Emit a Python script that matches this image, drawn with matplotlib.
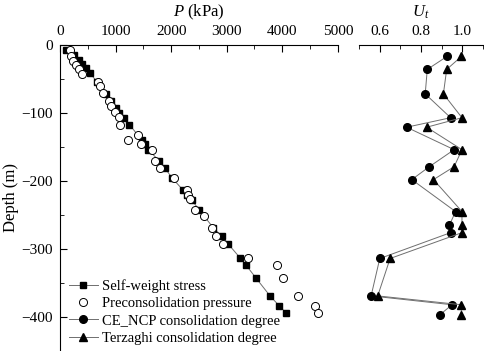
import matplotlib
matplotlib.use('Agg')
import matplotlib.pyplot as plt
from matplotlib.ticker import MultipleLocator, FuncFormatter

plt.rcParams['font.family'] = ['Liberation Serif', 'DejaVu Serif']
plt.rcParams['mathtext.fontset'] = 'custom'
plt.rcParams['mathtext.it'] = 'Liberation Serif:italic'
plt.rcParams['mathtext.rm'] = 'Liberation Serif'

# self-weight stress (kPa) vs depth (m)
sw_depth = [-7, -15, -22, -28, -34, -41, -54, -72, -82, -92, -100, -107, -117,
            -140, -146, -154, -171, -181, -195, -213, -221, -228, -243, -269,
            -281, -293, -313, -324, -343, -369, -384, -394]
sw_p = [110, 260, 340, 400, 470, 540, 660, 830, 920, 1010, 1070, 1160, 1250,
        1470, 1530, 1590, 1790, 1890, 2010, 2210, 2280, 2370, 2510, 2760,
        2910, 3030, 3240, 3350, 3530, 3780, 3950, 4070]

# preconsolidation pressure (kPa)
pc_depth = [-7, -16, -23, -29, -36, -43, -54, -61, -71, -82, -90, -98, -106,
            -117, -132, -140, -146, -154, -171, -181, -195, -213, -220, -227,
            -243, -252, -269, -281, -292, -313, -324, -343, -369, -384, -394]
pc_p = [180, 198, 240, 282, 342, 402, 690, 720, 780, 880, 918, 990, 1062,
        1080, 1398, 1230, 1458, 1662, 1710, 1800, 2052, 2280, 2298, 2340,
        2430, 2592, 2730, 2802, 2935, 3390, 3900, 4008, 4290, 4590, 4650]

# consolidation degree
u_depth = [-17, -36, -72, -107, -121, -154, -179, -198, -245, -265, -276,
           -314, -369, -382, -397]
u_ce = [0.925, 0.83, 0.82, 0.943, 0.73, 0.96, 0.84, 0.755, 0.967, 0.937,
        0.943, 0.60, 0.558, 0.95, 0.89]
u_tz = [0.995, 0.924, 0.908, 0.998, 0.827, 0.998, 0.96, 0.86, 0.998, 0.998,
        0.998, 0.65, 0.59, 0.995, 0.995]

fig = plt.figure(figsize=(4.84, 3.51), dpi=100)
ax1 = fig.add_axes([0.124, 0.0, 0.574, 0.872])
ax2 = fig.add_axes([0.742, 0.0, 0.256, 0.872])

lc = '#6e6e6e'
l1, = ax1.plot(sw_p, sw_depth, '-s', color=lc, lw=0.7, mfc='black', mec='black',
               ms=4.8, label='Self-weight stress')
l2, = ax1.plot(pc_p, pc_depth, 'o', mfc='white', mec='black', mew=0.7, ms=5.8,
               label='Preconsolidation pressure')
l3, = ax2.plot(u_ce, u_depth, '-o', color=lc, lw=0.7, mfc='black', mec='black',
               ms=5.5, label='CE_NCP consolidation degree')
l4, = ax2.plot(u_tz, u_depth, '-^', color=lc, lw=0.7, mfc='black', mec='black',
               ms=6, label='Terzaghi consolidation degree')

for ax in (ax1, ax2):
    ax.set_ylim(-450, 0)
    ax.xaxis.set_ticks_position('top')
    ax.xaxis.set_label_position('top')
    ax.spines['bottom'].set_visible(False)
    ax.spines['right'].set_visible(False)
    ax.tick_params(which='both', direction='in', labelsize=11, pad=5)
    ax.tick_params(which='major', length=5)
    ax.tick_params(which='minor', length=3)

ax1.set_xlim(0, 5000)
ax1.xaxis.set_major_locator(MultipleLocator(1000))
ax1.xaxis.set_minor_locator(MultipleLocator(500))
ax1.yaxis.set_major_locator(MultipleLocator(100))
ax1.yaxis.set_minor_locator(MultipleLocator(50))
ax1.set_xlabel('$P$ (kPa)', fontsize=12, labelpad=6)
ax1.set_ylabel('Depth (m)', fontsize=12, labelpad=2)

ax2.set_xlim(0.5, 1.1)
ax2.xaxis.set_major_locator(MultipleLocator(0.2))
ax2.xaxis.set_minor_locator(MultipleLocator(0.1))
ax2.xaxis.set_major_formatter(FuncFormatter(lambda v, p: '%.1f' % v))
ax2.spines['left'].set_visible(False)
ax2.tick_params(axis='y', which='both', left=False, labelleft=False)
ax2.set_xlabel('$U_t$', fontsize=12, labelpad=6)

ax1.legend(handles=[l1, l2, l3, l4], loc='lower left', bbox_to_anchor=(0.0, -0.008),
           frameon=False, fontsize=10.5, handlelength=2.0, handletextpad=0.3,
           labelspacing=0.27, borderaxespad=0.2)

fig.savefig('out.png', dpi=100)
